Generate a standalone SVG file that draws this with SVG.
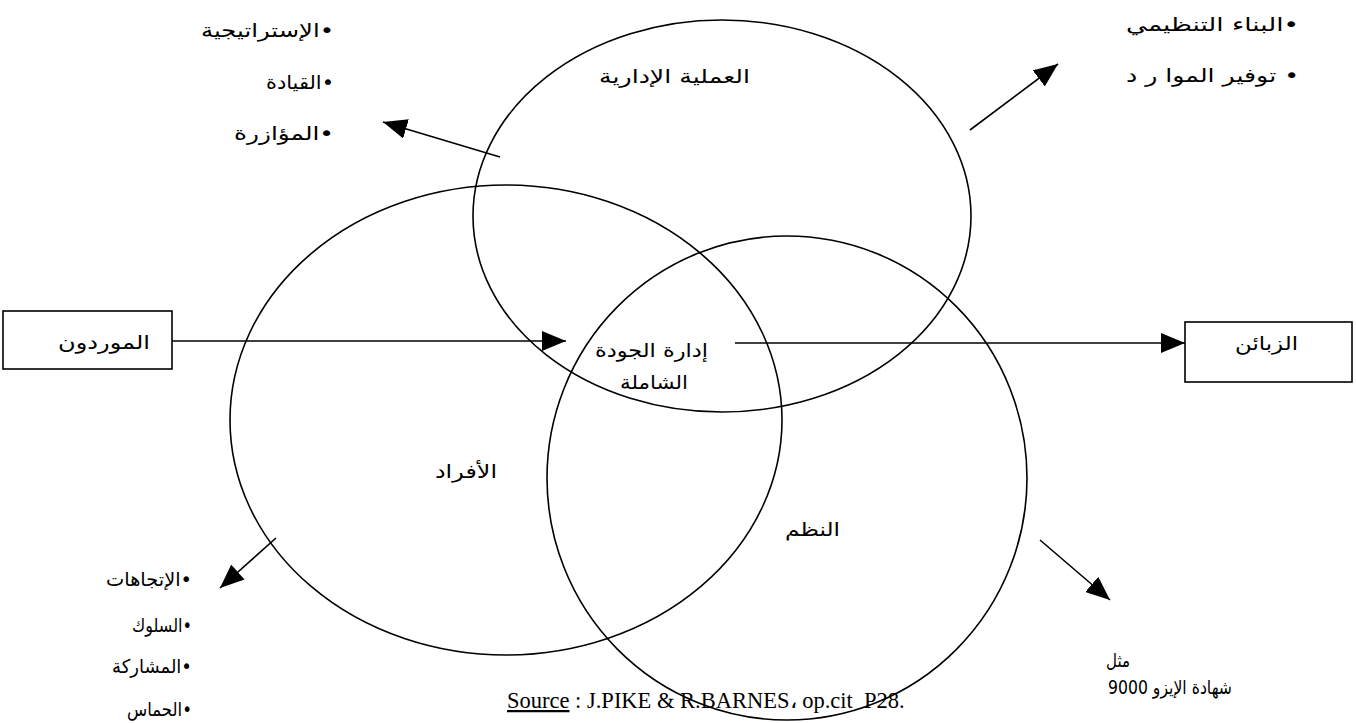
<svg xmlns="http://www.w3.org/2000/svg" width="1356" height="723" viewBox="0 0 1356 723">
<style>
.ell{fill:none;stroke:#000;stroke-width:1.6}
.ln{stroke:#000;stroke-width:1.6;fill:none}
.box{fill:#fff;stroke:#000;stroke-width:1.6}
.ar{font-family:"DejaVu Sans","Noto Sans",sans-serif;font-size:19px;fill:#000}
.src{font-family:"Liberation Serif",serif;font-size:22.5px;fill:#000}
</style>
<defs>
<marker id="ahb" viewBox="0 0 10 10" refX="10" refY="5" markerWidth="24" markerHeight="20" markerUnits="userSpaceOnUse" orient="auto" preserveAspectRatio="none">
<path d="M0,0 L10,5 L0,10 z" fill="#000"/>
</marker>
</defs>
<rect width="1356" height="723" fill="#fff"/>
<g id="ellipse-process"><ellipse class="ell" cx="722" cy="216" rx="249" ry="196"/><text class="ar" x="750" y="83" text-anchor="end" textLength="151" lengthAdjust="spacingAndGlyphs">العملية الإدارية</text></g>
<g id="ellipse-people"><ellipse class="ell" cx="506" cy="420" rx="276" ry="235"/><text class="ar" x="497" y="478" text-anchor="end" textLength="62" lengthAdjust="spacingAndGlyphs">الأفراد</text></g>
<g id="ellipse-systems"><ellipse class="ell" cx="787" cy="478" rx="240" ry="242"/><text class="ar" x="840" y="536" text-anchor="end" textLength="55" lengthAdjust="spacingAndGlyphs">النظم</text></g>
<g id="center"><text class="ar" x="708" y="357" text-anchor="end" textLength="113" lengthAdjust="spacingAndGlyphs">إدارة الجودة</text><text class="ar" x="688" y="389" text-anchor="end" textLength="68" lengthAdjust="spacingAndGlyphs">الشاملة</text></g>
<g id="suppliers"><rect class="box" x="3" y="311" width="169" height="58"/><text class="ar" x="150" y="349" text-anchor="end" textLength="92" lengthAdjust="spacingAndGlyphs">الموردون</text></g>
<g id="customers"><rect class="box" x="1185" y="322" width="167" height="60"/><text class="ar" x="1298" y="350" text-anchor="end" textLength="63" lengthAdjust="spacingAndGlyphs">الزبائن</text></g>
<g id="connectors">
<line class="ln" x1="172" y1="341" x2="566" y2="341" marker-end="url(#ahb)"/>
<line class="ln" x1="735" y1="343" x2="1185" y2="343" marker-end="url(#ahb)"/>
<line class="ln" x1="500" y1="157" x2="383" y2="122" marker-end="url(#ahb)"/>
<line class="ln" x1="970" y1="130" x2="1058" y2="64" marker-end="url(#ahb)"/>
<line class="ln" x1="276" y1="538" x2="220" y2="588" marker-end="url(#ahb)"/>
<line class="ln" x1="1040" y1="540" x2="1110" y2="600" marker-end="url(#ahb)"/>
</g>
<g id="list-topleft">
<text class="ar" x="334" y="37" text-anchor="end" textLength="133" lengthAdjust="spacingAndGlyphs">الإستراتيجية•</text>
<text class="ar" x="334" y="89" text-anchor="end" textLength="68" lengthAdjust="spacingAndGlyphs">القيادة•</text>
<text class="ar" x="334" y="140" text-anchor="end" textLength="100" lengthAdjust="spacingAndGlyphs">المؤازرة•</text>
</g>
<g id="list-topright">
<text class="ar" x="1299" y="31" text-anchor="end" textLength="173" lengthAdjust="spacingAndGlyphs">البناء التنظيمي•</text>
<text class="ar" x="1299" y="82" text-anchor="end" textLength="173" lengthAdjust="spacingAndGlyphs">توفير الموا ر د •</text>
</g>
<g id="list-bottomleft">
<text class="ar" x="192" y="586" text-anchor="end" textLength="86" lengthAdjust="spacingAndGlyphs">الإتجاهات•</text>
<text class="ar" x="192" y="632" text-anchor="end" textLength="60" lengthAdjust="spacingAndGlyphs">السلوك•</text>
<text class="ar" x="192" y="673" text-anchor="end" textLength="80" lengthAdjust="spacingAndGlyphs">المشاركة•</text>
<text class="ar" x="192" y="716" text-anchor="end" textLength="65" lengthAdjust="spacingAndGlyphs">الحماس•</text>
</g>
<g id="note-iso">
<text class="ar" x="1130" y="667" text-anchor="end" textLength="24" lengthAdjust="spacingAndGlyphs">مثل</text>
<text class="ar" x="1232" y="694" text-anchor="end" textLength="124" lengthAdjust="spacingAndGlyphs">شهادة الإيزو 9000</text>
</g>
<g id="source">
<text class="src" x="507" y="708" xml:space="preserve"><tspan text-decoration="underline">Source</tspan> : J.PIKE &amp; R.BARNES، op.cit  P28.</text>
</g>
</svg>
